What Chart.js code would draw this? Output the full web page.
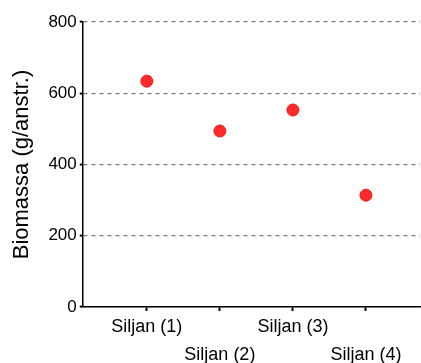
<!DOCTYPE html>
<html>
<head>
<meta charset="utf-8">
<script src="https://cdn.jsdelivr.net/npm/chart.js@4/dist/chart.umd.min.js"></script>
<style>
  body { margin: 0; background: #fff; }
  canvas { display: block; }
</style>
</head>
<body>
<canvas id="chart" width="421" height="363"></canvas>
<script>
const categories = ['Siljan (1)', 'Siljan (2)', 'Siljan (3)', 'Siljan (4)'];
const biomass = [634, 494, 553, 314];
const yTicks = [0, 200, 400, 600, 800];

const points = categories.map((c, i) => ({ x: i + 1, y: biomass[i] }));

new Chart(document.getElementById('chart').getContext('2d'), {
  type: 'scatter',
  data: {
    datasets: [{
      data: points,
      backgroundColor: '#ff2b2b',
      borderColor: '#f01818',
      borderWidth: 1,
      pointRadius: 6,
      pointHoverRadius: 6
    }]
  },
  options: {
    responsive: false,
    animation: false,
    layout: { autoPadding: false, padding: { top: 22, right: 1, left: 9, bottom: 0 } },
    plugins: { legend: { display: false }, tooltip: { enabled: false } },
    scales: {
      x: {
        type: 'linear',
        min: 0.123,
        max: 4.74,
        afterBuildTicks: axis => { axis.ticks = categories.map((c, i) => ({ value: i + 1 })); },
        afterFit: axis => { axis.height = 56; axis.paddingRight = 0; axis.paddingLeft = 0; },
        ticks: {
          color: '#000',
          font: { family: 'Liberation Sans, Arial', size: 18, lineHeight: 1.55 },
          padding: 2,
          maxRotation: 0,
          autoSkip: false,
          callback: v => {
            const i = Math.round(v) - 1;
            return i % 2 === 0 ? [categories[i]] : ['', categories[i]];
          }
        },
        grid: { drawOnChartArea: false, drawTicks: true, tickLength: 4, tickColor: '#000', tickWidth: 2 },
        border: { color: '#000', width: 1.5 }
      },
      y: {
        min: 0,
        max: 800,
        afterBuildTicks: axis => { axis.ticks = yTicks.map(v => ({ value: v })); },
        ticks: {
          color: '#000',
          font: { family: 'Liberation Sans, Arial', size: 17 },
          padding: 3
        },
        grid: { color: '#777', lineWidth: 1.2, tickLength: 3, tickColor: '#000', tickWidth: 2 },
        border: { color: '#000', width: 1.5, dash: [4, 4] },
        title: {
          display: true,
          text: 'Biomassa (g/anstr.)',
          color: '#000',
          font: { family: 'Liberation Sans, Arial', size: 22 },
          padding: { top: 0, bottom: 10 }
        }
      }
    }
  }
});
</script>
</body>
</html>
